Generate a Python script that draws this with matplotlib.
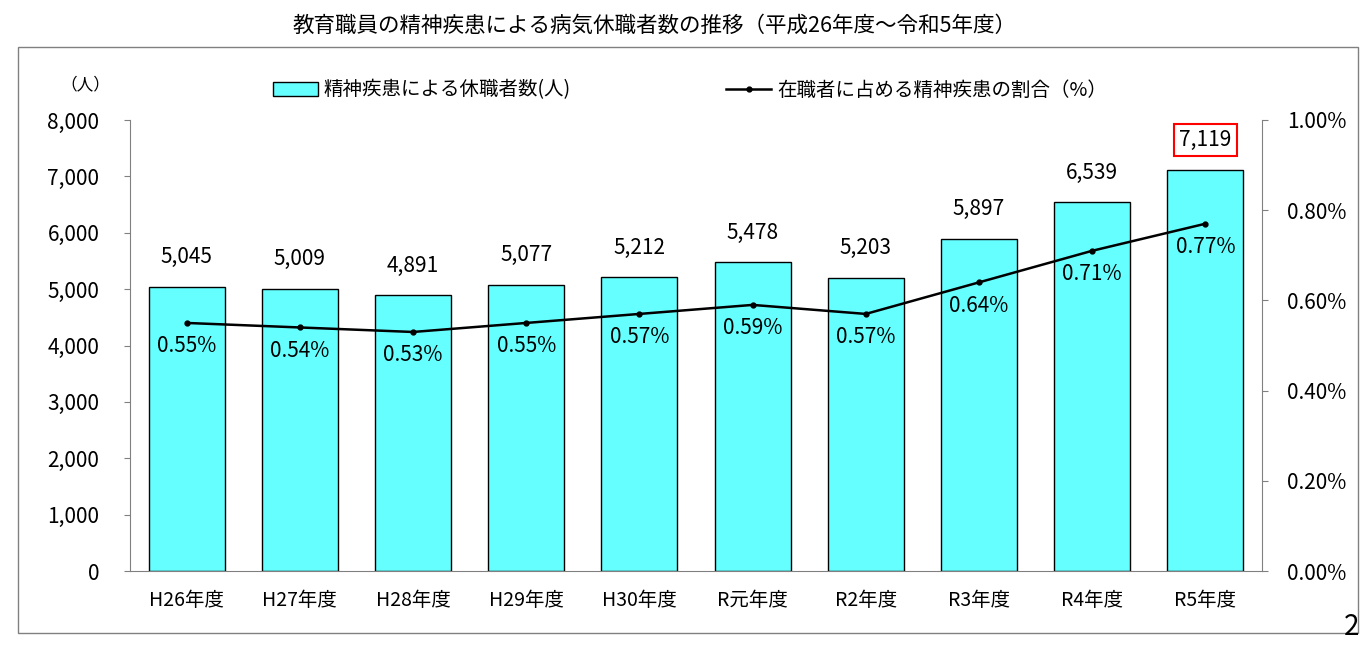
import matplotlib
matplotlib.use("Agg")
import matplotlib.pyplot as plt
from matplotlib.patches import Rectangle
from matplotlib.lines import Line2D

plt.rcParams['font.family'] = ['Noto Sans CJK JP', 'DejaVu Sans']

categories = ["H26年度", "H27年度", "H28年度", "H29年度", "H30年度", "R元年度", "R2年度", "R3年度", "R4年度", "R5年度"]
counts = [5045, 5009, 4891, 5077, 5212, 5478, 5203, 5897, 6539, 7119]
rates = [0.55, 0.54, 0.53, 0.55, 0.57, 0.59, 0.57, 0.64, 0.71, 0.77]
left_ticks = [0, 1000, 2000, 3000, 4000, 5000, 6000, 7000, 8000]
right_ticks = [0.0, 0.2, 0.4, 0.6, 0.8, 1.0]

W, H = 1363, 653
fig = plt.figure(figsize=(W/100, H/100), dpi=100)
fig.patches.append(Rectangle((18/W, 1-633/H), 1340/W, 586/H, transform=fig.transFigure,
                             fill=False, edgecolor='#808080', lw=1))
fig.text(655/W, 1-26/H, "教育職員の精神疾患による病気休職者数の推移（平成26年度～令和5年度）",
         ha='center', va='center', fontsize=15.5)
fig.text(85/W, 1-85/H, "（人）", ha='center', va='center', fontsize=12)
fig.text(1352/W, 1-627/H, "2", ha='center', va='center', fontsize=20)

ax = fig.add_axes([130/W, 1-571/H, 1132/W, 451/H])
x = list(range(len(categories)))
ax.bar(x, counts, width=0.67, color='#66FFFF', edgecolor='black', lw=1, zorder=2)
ax.set_ylim(0, 8000)
ax.set_xlim(-0.5, len(categories)-0.5)
ax.set_yticks(left_ticks)
ax.set_yticklabels([f"{v:,}" for v in left_ticks], fontsize=15)
ax.set_xticks(x)
ax.set_xticklabels(categories, fontsize=14)
ax.tick_params(axis='x', length=0, pad=14)
ax.tick_params(axis='y', length=4, pad=18, color='#808080')
for s in ['top', 'right']:
    ax.spines[s].set_visible(False)
ax.spines['left'].set_color('#808080')
ax.spines['bottom'].set_color('#808080')
for i, v in enumerate(counts):
    t = ax.text(i, v + 330, f"{v:,}", ha='center', va='bottom', fontsize=15)
    if i == len(counts)-1:
        t.set_bbox(dict(facecolor='white', edgecolor='red', lw=1.5, boxstyle='square,pad=0.25'))

ax2 = ax.twinx()
ax2.plot(x, rates, color='black', lw=1.8, marker='o', markersize=3.5, zorder=3)
ax2.set_ylim(0, 1.0)
ax2.set_yticks(right_ticks)
ax2.set_yticklabels([f"{v:.2f}%" for v in right_ticks], fontsize=15)
ax2.tick_params(axis='y', length=4, pad=14, color='#808080')
for s in ['top', 'left', 'bottom']:
    ax2.spines[s].set_visible(False)
ax2.spines['right'].set_color('#808080')
for i, r in enumerate(rates):
    ax2.text(i, r - 0.027, f"{r:.2f}%", ha='center', va='top', fontsize=15)

handles = [Rectangle((0, 0), 1, 1, facecolor='#66FFFF', edgecolor='black'),
           Line2D([], [], color='black', lw=1.8, marker='o', markersize=3.5)]
labels = ['精神疾患による休職者数(人)', '在職者に占める精神疾患の割合（%）']
fig.legend(handles, labels, loc='center', bbox_to_anchor=(690/W, 1-90/H), ncol=2,
           frameon=False, fontsize=14, columnspacing=8, handlelength=2.3, handletextpad=0.3)

fig.savefig("out.png", dpi=100)
